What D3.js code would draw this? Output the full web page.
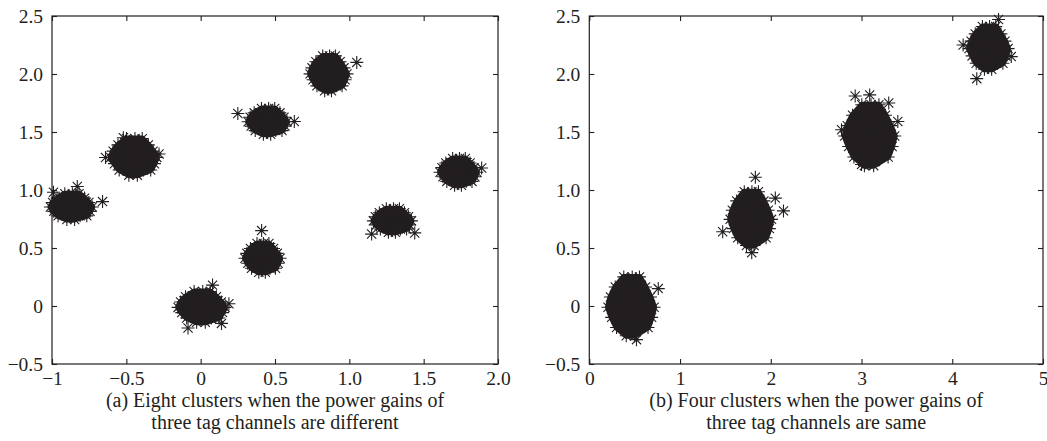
<!DOCTYPE html>
<html>
<head>
<meta charset="utf-8">
<script src="https://cdn.jsdelivr.net/npm/d3@7"></script>
<style>
  body { margin: 0; background: #fff; }
  svg { display: block; }
</style>
</head>
<body>
<div id="chart"></div>
<script>
// tick values and labels
var yTicks = [-0.5, 0, 0.5, 1, 1.5, 2, 2.5];
var yLabels = ["\u22120.5", "0", "0.5", "1.0", "1.5", "2.0", "2.5"];
var xTicksA = [-1, -0.5, 0, 0.5, 1, 1.5, 2];
var xLabelsA = ["\u22121", "\u22120.5", "0", "0.5", "1.0", "1.5", "2.0"];
var xTicksB = [0, 1, 2, 3, 4, 5];
var xLabelsB = ["0", "1", "2", "3", "4", "5"];
var captionA = ["(a) Eight clusters when the power gains of", "three tag channels are different"];
var captionB = ["(b) Four clusters when the power gains of", "three tag channels are same"];

// (a) eight clusters, points estimated from the blobs
var clustersA = [
  [ // around (-0.87, 0.86)
  [-0.914,0.968],[-0.863,0.968],[-0.818,0.968],
  [-0.966,0.930],[-0.914,0.930],[-0.87,0.930],[-0.826,0.930],[-0.781,0.930],
  [-0.996,0.892],[-0.944,0.892],[-0.892,0.892],[-0.84,0.892],[-0.796,0.892],[-0.752,0.892],
  [-1.011,0.854],[-0.959,0.854],[-0.914,0.854],[-0.863,0.854],[-0.818,0.854],[-0.766,0.854],[-0.729,0.854],
  [-0.988,0.816],[-0.937,0.816],[-0.885,0.816],[-0.84,0.816],[-0.789,0.816],[-0.744,0.816],
  [-0.959,0.777],[-0.907,0.777],[-0.855,0.777],[-0.811,0.777],[-0.766,0.777],
  [-0.90,0.746],[-0.848,0.746]],
  [ // around (-0.45, 1.29)
  [-0.499,1.443],[-0.442,1.443],[-0.393,1.443],
  [-0.556,1.389],[-0.499,1.389],[-0.45,1.389],[-0.401,1.389],[-0.352,1.389],
  [-0.589,1.335],[-0.532,1.335],[-0.474,1.335],[-0.417,1.335],[-0.368,1.335],[-0.32,1.335],
  [-0.605,1.281],[-0.548,1.281],[-0.499,1.281],[-0.442,1.281],[-0.393,1.281],[-0.336,1.281],[-0.295,1.281],
  [-0.58,1.227],[-0.523,1.227],[-0.466,1.227],[-0.417,1.227],[-0.36,1.227],[-0.311,1.227],
  [-0.548,1.173],[-0.491,1.173],[-0.434,1.173],[-0.385,1.173],[-0.336,1.173],
  [-0.483,1.128],[-0.426,1.128]],
  [ // around (0.45, 1.595)
  [0.409,1.703],[0.457,1.703],[0.498,1.703],
  [0.36,1.665],[0.409,1.665],[0.45,1.665],[0.491,1.665],[0.533,1.665],
  [0.333,1.627],[0.381,1.627],[0.429,1.627],[0.478,1.627],[0.519,1.627],[0.56,1.627],
  [0.319,1.589],[0.367,1.589],[0.409,1.589],[0.457,1.589],[0.498,1.589],[0.547,1.589],[0.581,1.589],
  [0.34,1.551],[0.388,1.551],[0.436,1.551],[0.478,1.551],[0.526,1.551],[0.567,1.551],
  [0.367,1.512],[0.415,1.512],[0.464,1.512],[0.505,1.512],[0.547,1.512],
  [0.422,1.481],[0.471,1.481]],
  [ // around (0.86, 2.01)
  [0.821,2.156],[0.867,2.156],[0.906,2.156],
  [0.775,2.105],[0.821,2.105],[0.86,2.105],[0.899,2.105],[0.938,2.105],
  [0.749,2.053],[0.795,2.053],[0.84,2.053],[0.886,2.053],[0.925,2.053],[0.964,2.053],
  [0.736,2.001],[0.782,2.001],[0.821,2.001],[0.867,2.001],[0.906,2.001],[0.951,2.001],[0.984,2.001],
  [0.756,1.95],[0.801,1.95],[0.847,1.95],[0.886,1.95],[0.932,1.95],[0.971,1.95],
  [0.782,1.898],[0.827,1.898],[0.873,1.898],[0.912,1.898],[0.951,1.898],
  [0.834,1.855],[0.88,1.855]],
  [ // around (1.734, 1.16)
  [1.695,1.272],[1.741,1.272],[1.78,1.272],
  [1.649,1.233],[1.695,1.233],[1.734,1.233],[1.773,1.233],[1.812,1.233],
  [1.623,1.193],[1.669,1.193],[1.714,1.193],[1.76,1.193],[1.799,1.193],[1.838,1.193],
  [1.61,1.153],[1.656,1.153],[1.695,1.153],[1.741,1.153],[1.78,1.153],[1.825,1.153],[1.858,1.153],
  [1.63,1.114],[1.675,1.114],[1.721,1.114],[1.76,1.114],[1.806,1.114],[1.845,1.114],
  [1.656,1.074],[1.701,1.074],[1.747,1.074],[1.786,1.074],[1.825,1.074],
  [1.708,1.041],[1.754,1.041]],
  [ // around (1.29, 0.74)
  [1.249,0.839],[1.297,0.839],[1.337,0.839],
  [1.202,0.804],[1.249,0.804],[1.29,0.804],[1.331,0.804],[1.371,0.804],
  [1.175,0.769],[1.222,0.769],[1.27,0.769],[1.317,0.769],[1.358,0.769],[1.398,0.769],
  [1.162,0.734],[1.209,0.734],[1.249,0.734],[1.297,0.734],[1.337,0.734],[1.385,0.734],[1.418,0.734],
  [1.182,0.699],[1.229,0.699],[1.276,0.699],[1.317,0.699],[1.364,0.699],[1.405,0.699],
  [1.209,0.664],[1.256,0.664],[1.304,0.664],[1.344,0.664],[1.385,0.664],
  [1.263,0.635],[1.31,0.635]],
  [ // around (0.416, 0.418)
  [0.379,0.539],[0.422,0.539],[0.459,0.539],
  [0.335,0.496],[0.379,0.496],[0.416,0.496],[0.453,0.496],[0.49,0.496],
  [0.311,0.454],[0.354,0.454],[0.397,0.454],[0.441,0.454],[0.478,0.454],[0.515,0.454],
  [0.298,0.411],[0.342,0.411],[0.379,0.411],[0.422,0.411],[0.459,0.411],[0.503,0.411],[0.534,0.411],
  [0.317,0.368],[0.36,0.368],[0.404,0.368],[0.441,0.368],[0.484,0.368],[0.521,0.368],
  [0.342,0.326],[0.385,0.326],[0.428,0.326],[0.466,0.326],[0.503,0.326],
  [0.391,0.29],[0.435,0.29]],
  [ // around (0.006, -0.004)
  [-0.044,0.125],[0.014,0.125],[0.064,0.125],
  [-0.102,0.08],[-0.044,0.08],[0.006,0.08],[0.056,0.08],[0.106,0.08],
  [-0.135,0.034],[-0.077,0.034],[-0.019,0.034],[0.039,0.034],[0.089,0.034],[0.139,0.034],
  [-0.152,-0.012],[-0.094,-0.012],[-0.044,-0.012],[0.014,-0.012],[0.064,-0.012],[0.122,-0.012],[0.164,-0.012],
  [-0.127,-0.057],[-0.069,-0.057],[-0.011,-0.057],[0.039,-0.057],[0.097,-0.057],[0.147,-0.057],
  [-0.094,-0.103],[-0.036,-0.103],[0.023,-0.103],[0.072,-0.103],[0.122,-0.103],
  [-0.027,-0.141],[0.031,-0.141]]
];
// lone points sticking out of the blobs in (a)
var strayA = [
  [-0.83,1.03],[-0.66,0.90],[-0.99,0.98],
  [-0.64,1.28],[-0.28,1.31],[-0.52,1.45],
  [0.25,1.66],[0.63,1.59],
  [1.05,2.10],
  [1.89,1.19],
  [1.15,0.62],[1.44,0.63],
  [0.41,0.65],
  [-0.085,-0.19],[0.08,0.18],[0.19,0.02],[0.14,-0.15]
];

// (b) four clusters
var clustersB = [
  [ // around (0.46, 0.0)
  [0.38,0.251],[0.473,0.251],[0.553,0.251],
  [0.286,0.164],[0.38,0.164],[0.46,0.164],[0.54,0.164],[0.62,0.164],
  [0.233,0.077],[0.326,0.077],[0.42,0.077],[0.513,0.077],[0.594,0.077],[0.674,0.077],
  [0.206,-0.011],[0.30,-0.011],[0.38,-0.011],[0.473,-0.011],[0.553,-0.011],[0.647,-0.011],[0.714,-0.011],
  [0.246,-0.098],[0.34,-0.098],[0.433,-0.098],[0.513,-0.098],[0.607,-0.098],[0.687,-0.098],
  [0.30,-0.185],[0.393,-0.185],[0.487,-0.185],[0.567,-0.185],[0.647,-0.185],
  [0.407,-0.257],[0.50,-0.257]],
  [ // around (1.78, 0.76)
  [1.708,0.985],[1.792,0.985],[1.864,0.985],
  [1.624,0.906],[1.708,0.906],[1.78,0.906],[1.852,0.906],[1.924,0.906],
  [1.576,0.826],[1.66,0.826],[1.744,0.826],[1.828,0.826],[1.90,0.826],[1.972,0.826],
  [1.552,0.747],[1.636,0.747],[1.708,0.747],[1.792,0.747],[1.864,0.747],[1.948,0.747],[2.008,0.747],
  [1.588,0.667],[1.672,0.667],[1.756,0.667],[1.828,0.667],[1.912,0.667],[1.984,0.667],
  [1.636,0.588],[1.72,0.588],[1.804,0.588],[1.876,0.588],[1.948,0.588],
  [1.732,0.521],[1.816,0.521]],
  [ // around (3.09, 1.48)
  [3.003,1.735],[3.105,1.735],[3.192,1.735],
  [2.901,1.645],[3.003,1.645],[3.09,1.645],[3.177,1.645],[3.264,1.645],
  [2.843,1.555],[2.945,1.555],[3.046,1.555],[3.148,1.555],[3.235,1.555],[3.322,1.555],
  [2.814,1.465],[2.916,1.465],[3.003,1.465],[3.105,1.465],[3.192,1.465],[3.293,1.465],[3.366,1.465],
  [2.858,1.375],[2.959,1.375],[3.061,1.375],[3.148,1.375],[3.25,1.375],[3.337,1.375],
  [2.916,1.285],[3.017,1.285],[3.119,1.285],[3.206,1.285],[3.293,1.285],
  [3.032,1.21],[3.134,1.21]],
  [ // around (4.4, 2.23)
  [4.332,2.409],[4.411,2.409],[4.479,2.409],
  [4.253,2.346],[4.332,2.346],[4.40,2.346],[4.468,2.346],[4.536,2.346],
  [4.208,2.283],[4.287,2.283],[4.366,2.283],[4.445,2.283],[4.513,2.283],[4.581,2.283],
  [4.185,2.219],[4.264,2.219],[4.332,2.219],[4.411,2.219],[4.479,2.219],[4.558,2.219],[4.615,2.219],
  [4.219,2.156],[4.298,2.156],[4.377,2.156],[4.445,2.156],[4.524,2.156],[4.592,2.156],
  [4.264,2.093],[4.343,2.093],[4.423,2.093],[4.49,2.093],[4.558,2.093],
  [4.355,2.041],[4.434,2.041]]
];
var strayB = [
  [0.76,0.15],[0.52,-0.29],
  [1.47,0.64],[1.83,1.11],[2.14,0.82],[1.79,0.46],[2.05,0.93],
  [2.93,1.81],[3.09,1.82],[3.30,1.75],[3.40,1.59],[3.0,1.22],[2.78,1.52],
  [4.27,1.96],[4.12,2.25],[4.51,2.47],[4.65,2.15]
];

var ink = "#231f20";
var fontFam = "'Liberation Serif', serif";

var svg = d3.select("#chart")
  .append("svg")
  .attr("width", 1047)
  .attr("height", 441);

// asterisk marker like the matlab '*'
var r = 6.5, q = r * 0.7071;
var star = "M" + (-r) + ",0H" + r + "M0," + (-r) + "V" + r +
  "M" + (-q) + "," + (-q) + "L" + q + "," + q +
  "M" + (-q) + "," + q + "L" + q + "," + (-q);

function panel(opts) {
  var top = 16, bottom = 364;
  var x = d3.scaleLinear().domain(opts.xDomain).range([opts.left, opts.right]);
  var y = d3.scaleLinear().domain([-0.5, 2.5]).range([bottom, top]);
  var g = svg.append("g");

  // hundreds of overlapping stars make the middle of each blob solid,
  // so fill the hull of the cluster's points
  g.append("g")
    .selectAll("path")
    .data(opts.clusters)
    .enter()
    .append("path")
    .attr("d", function(c) {
      var hull = d3.polygonHull(c.map(function(p) { return [x(p[0]), y(p[1])]; }));
      return "M" + hull.join("L") + "Z";
    })
    .attr("fill", ink)
    .attr("stroke", ink)
    .attr("stroke-width", 6)
    .attr("stroke-linejoin", "round");

  var all = d3.merge(opts.clusters).concat(opts.stray);
  g.append("g")
    .selectAll("path")
    .data(all)
    .enter()
    .append("path")
    .attr("d", star)
    .attr("transform", function(d) { return "translate(" + x(d[0]) + "," + y(d[1]) + ")"; })
    .attr("fill", "none")
    .attr("stroke", ink)
    .attr("stroke-width", 1.1);

  var xb = g.append("g")
    .attr("transform", "translate(0," + bottom + ")")
    .call(d3.axisBottom(x).tickValues(opts.xTicks)
      .tickFormat(function(d, i) { return opts.xLabels[i]; })
      .tickSizeInner(-5).tickSizeOuter(0).tickPadding(7));
  var xt = g.append("g")
    .attr("transform", "translate(0," + top + ")")
    .call(d3.axisTop(x).tickValues(opts.xTicks).tickFormat("")
      .tickSizeInner(-5).tickSizeOuter(0));
  var yl = g.append("g")
    .attr("transform", "translate(" + opts.left + ",0)")
    .call(d3.axisLeft(y).tickValues(yTicks)
      .tickFormat(function(d, i) { return yLabels[i]; })
      .tickSizeInner(-5).tickSizeOuter(0).tickPadding(9));
  var yr = g.append("g")
    .attr("transform", "translate(" + opts.right + ",0)")
    .call(d3.axisRight(y).tickValues(yTicks).tickFormat("")
      .tickSizeInner(-5).tickSizeOuter(0));

  [xb, xt, yl, yr].forEach(function(a) {
    a.select(".domain").remove();
    a.attr("color", ink).attr("font-size", 19.5);
    a.style("font-family", fontFam);
    a.selectAll("line").attr("stroke-width", 1.1);
  });

  g.append("rect")
    .attr("x", opts.left)
    .attr("y", top)
    .attr("width", opts.right - opts.left)
    .attr("height", bottom - top)
    .attr("fill", "none")
    .attr("stroke", ink)
    .attr("stroke-width", 1.2);

  var cx = (opts.left + opts.right) / 2;
  g.selectAll("text.cap")
    .data(opts.caption)
    .enter()
    .append("text")
    .attr("class", "cap")
    .attr("x", cx)
    .attr("y", function(d, i) { return 407 + i * 21.5; })
    .attr("text-anchor", "middle")
    .style("font-family", fontFam)
    .attr("font-size", 20)
    .attr("fill", ink)
    .text(function(d) { return d; });
}

panel({ left: 52, right: 498, xDomain: [-1, 2], xTicks: xTicksA, xLabels: xLabelsA,
        clusters: clustersA, stray: strayA, caption: captionA });
panel({ left: 589.3, right: 1043, xDomain: [0, 5], xTicks: xTicksB, xLabels: xLabelsB,
        clusters: clustersB, stray: strayB, caption: captionB });
</script>
</body>
</html>
